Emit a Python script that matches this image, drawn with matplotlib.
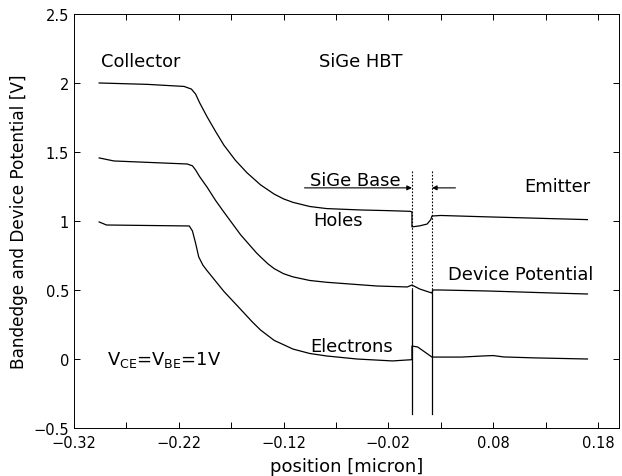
import matplotlib
matplotlib.use("Agg")
import matplotlib.pyplot as plt
from matplotlib.ticker import FixedLocator

plt.rcParams['font.family'] = ['DejaVu Sans']
plt.rcParams['mathtext.fontset'] = 'dejavusans'

# Holes band edge
holes_x = [-0.296, -0.250, -0.215, -0.208, -0.204, -0.200, -0.193, -0.185, -0.177,
           -0.166, -0.155, -0.142, -0.129, -0.120, -0.111, -0.095, -0.079, -0.047,
           -0.020, 0.001, 0.0025, 0.0025, 0.010, 0.017, 0.0205, 0.0216, 0.030,
           0.074, 0.122, 0.170]
holes_y = [2.000, 1.990, 1.975, 1.956, 1.920, 1.855, 1.755, 1.650, 1.550,
           1.440, 1.350, 1.262, 1.195, 1.160, 1.135, 1.105, 1.090, 1.080,
           1.075, 1.070, 1.065, 0.957, 0.965, 0.978, 1.010, 1.036, 1.040,
           1.030, 1.020, 1.010]

# Device potential
pot_x = [-0.296, -0.282, -0.212, -0.207, -0.204, -0.200, -0.193, -0.185, -0.177,
         -0.161, -0.146, -0.142, -0.135, -0.129, -0.120, -0.111, -0.095, -0.079,
         -0.031, -0.002, 0.0025, 0.010, 0.0216, 0.0225, 0.030, 0.074, 0.138,
         0.170]
pot_y = [1.457, 1.435, 1.413, 1.400, 1.370, 1.320, 1.245, 1.150, 1.065,
         0.900, 0.770, 0.740, 0.690, 0.655, 0.618, 0.595, 0.569, 0.556,
         0.529, 0.522, 0.536, 0.507, 0.478, 0.500, 0.500, 0.493, 0.478,
         0.471]

# Electron band edge
elec_x = [-0.296, -0.289, -0.210, -0.207, -0.204, -0.201, -0.197, -0.193, -0.177,
          -0.161, -0.150, -0.142, -0.129, -0.111, -0.095, -0.079, -0.050, -0.016,
          -0.002, 0.0025, 0.0025, 0.008, 0.0216, 0.050, 0.070, 0.080, 0.090,
          0.120, 0.170]
elec_y = [0.993, 0.971, 0.964, 0.928, 0.840, 0.740, 0.680, 0.640, 0.490,
          0.360, 0.270, 0.210, 0.135, 0.072, 0.040, 0.022, 0.000, -0.014,
          -0.007, -0.005, 0.094, 0.087, 0.014, 0.014, 0.022, 0.025, 0.015,
          0.008, 0.000]

# SiGe base boundaries
base_left = 0.0025
base_right = 0.0216

x_major = [-0.32, -0.22, -0.12, -0.02, 0.08, 0.18]
x_minor = [-0.27, -0.17, -0.07, 0.03, 0.13]
x_labels = ['\u22120.32', '\u22120.22', '\u22120.12', '\u22120.02', '0.08', '0.18']
y_major = [-0.5, 0, 0.5, 1, 1.5, 2, 2.5]
y_labels = ['\u22120.5', '0', '0.5', '1', '1.5', '2', '2.5']

fig = plt.figure(figsize=(6.22, 4.77), dpi=100)
ax = fig.add_axes([0.119, 0.1006, 0.876, 0.868])

lw = 0.9
ax.plot(holes_x, holes_y, color='black', lw=lw)
ax.plot(pot_x, pot_y, color='black', lw=lw)
ax.plot(elec_x, elec_y, color='black', lw=lw)

# base boundaries: dotted above, solid below
for xb in (base_left, base_right):
    ax.plot([xb, xb], [1.36, 0.50], color='black', lw=0.8, ls=(0, (1.5, 1.5)))
    ax.plot([xb, xb], [0.50, -0.40], color='black', lw=0.9)

# SiGe Base arrows
arrow_y = 1.24
ax.annotate('', xy=(base_left, arrow_y), xytext=(-0.100, arrow_y),
            arrowprops=dict(arrowstyle='-|>', color='black', lw=0.8,
                            mutation_scale=7, shrinkA=0, shrinkB=0))
ax.annotate('', xy=(base_right, arrow_y), xytext=(0.044, arrow_y),
            arrowprops=dict(arrowstyle='-|>', color='black', lw=0.8,
                            mutation_scale=7, shrinkA=0, shrinkB=0))

fs = 12.9
ax.text(-0.294, 2.16, 'Collector', fontsize=fs, va='center', ha='left')
ax.text(-0.086, 2.16, 'SiGe HBT', fontsize=fs, va='center', ha='left')
ax.text(-0.052, 1.30, 'SiGe Base', fontsize=fs, va='center', ha='center')
ax.text(-0.068, 1.01, 'Holes', fontsize=fs, va='center', ha='center')
ax.text(0.141, 1.25, 'Emitter', fontsize=fs, va='center', ha='center')
ax.text(0.106, 0.616, 'Device Potential', fontsize=fs, va='center', ha='center')
ax.text(-0.055, 0.094, 'Electrons', fontsize=fs, va='center', ha='center')
ax.text(-0.289, 0.0, r'V$_\mathrm{CE}$=V$_\mathrm{BE}$=1V', fontsize=fs,
        va='center', ha='left')

ax.set_xlim(-0.32, 0.20)
ax.set_ylim(-0.5, 2.5)
ax.xaxis.set_major_locator(FixedLocator(x_major))
ax.set_xticklabels(x_labels)
ax.xaxis.set_minor_locator(FixedLocator(x_minor))
ax.yaxis.set_major_locator(FixedLocator(y_major))
ax.set_yticklabels(y_labels)

ax.tick_params(which='both', direction='in', top=True, right=True,
               length=4, width=0.7, labelsize=10.5)
ax.tick_params(axis='x', pad=5)
for s in ax.spines.values():
    s.set_linewidth(0.7)

ax.set_xlabel('position [micron]', fontsize=13, labelpad=5)
ax.set_ylabel('Bandedge and Device Potential [V]', fontsize=12.2)

fig.savefig('out.png', dpi=100)
